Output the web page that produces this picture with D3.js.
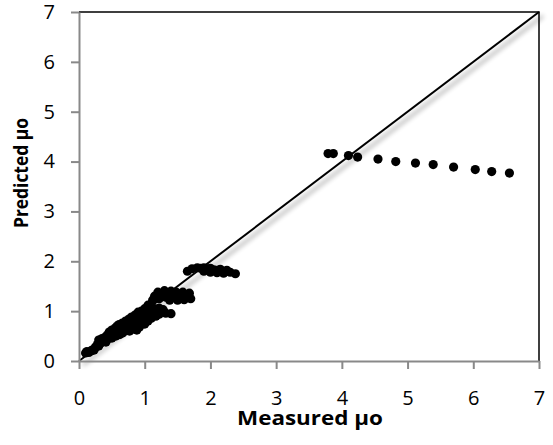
<!DOCTYPE html>
<html>
<head>
<meta charset="utf-8">
<script src="https://cdn.jsdelivr.net/npm/d3@7"></script>
<style>
body { margin: 0; background: #fff; }
svg { display: block; font-family: "Open Sans", sans-serif; }
</style>
</head>
<body>
<div id="chart"></div>
<script>
// measured vs predicted
var bandPoints = [
    [0.10, 0.16], [0.12, 0.19], [0.15, 0.17], [0.18, 0.20], [0.20, 0.22], [0.23, 0.22],
    [0.25, 0.28], [0.28, 0.33], [0.30, 0.30], [0.30, 0.42], [0.33, 0.36], [0.35, 0.45],
    [0.38, 0.40], [0.40, 0.48], [0.41, 0.38], [0.43, 0.52], [0.45, 0.45], [0.46, 0.58],
    [0.48, 0.50], [0.50, 0.62], [0.52, 0.52], [0.53, 0.60], [0.55, 0.66], [0.57, 0.55],
    [0.58, 0.70], [0.60, 0.62], [0.61, 0.73], [0.62, 0.53], [0.64, 0.67], [0.66, 0.76],
    [0.67, 0.58], [0.70, 0.70], [0.71, 0.80], [0.73, 0.62], [0.75, 0.74], [0.76, 0.84],
    [0.78, 0.65], [0.80, 0.78], [0.80, 0.88], [0.83, 0.70], [0.84, 0.64], [0.85, 0.92],
    [0.86, 0.82], [0.88, 0.74], [0.90, 0.98], [0.90, 0.86], [0.93, 0.78], [0.95, 1.00],
    [0.96, 0.90], [0.98, 0.82], [1.00, 1.05], [1.00, 0.95], [1.03, 0.86], [1.05, 1.12],
    [1.05, 1.00], [1.08, 0.90], [1.10, 1.02], [1.13, 0.93], [1.15, 1.05], [1.20, 0.98],
    [1.22, 1.06], [1.28, 1.03], [1.32, 0.96],
    [0.50, 0.46], [0.56, 0.50], [0.66, 0.56], [0.70, 0.60], [0.77, 0.60], [0.88, 0.62],
    [0.92, 0.68], [1.00, 0.74], [1.05, 0.80], [1.10, 0.86], [1.17, 0.90], [1.22, 0.94],
    [1.40, 0.95]
];
var midPoints = [
    [1.12, 1.22], [1.15, 1.30], [1.20, 1.38], [1.22, 1.25], [1.28, 1.35], [1.30, 1.41],
    [1.32, 1.28], [1.38, 1.22], [1.40, 1.40], [1.42, 1.30], [1.48, 1.38], [1.50, 1.22],
    [1.52, 1.30], [1.58, 1.38], [1.60, 1.23], [1.62, 1.30], [1.68, 1.36], [1.70, 1.25]
];
var upperPoints = [
    [1.65, 1.80], [1.72, 1.85], [1.80, 1.87], [1.85, 1.86], [1.90, 1.87], [1.95, 1.85],
    [2.00, 1.86], [2.05, 1.83], [2.10, 1.82], [2.15, 1.84], [2.20, 1.80], [2.25, 1.82],
    [2.30, 1.78], [2.38, 1.75], [1.90, 1.80], [2.00, 1.78], [2.10, 1.77], [2.20, 1.76]
];
var highPoints = [
    [3.79, 4.16], [3.87, 4.16], [4.10, 4.12], [4.24, 4.09], [4.55, 4.05], [4.82, 4.00],
    [5.12, 3.97], [5.39, 3.94], [5.70, 3.89], [6.03, 3.84], [6.28, 3.80], [6.55, 3.77]
];
var xTicks = [0, 1, 2, 3, 4, 5, 6, 7];
var yTicks = [0, 1, 2, 3, 4, 5, 6, 7];
var xTitle = "Measured \u03bco";
var yTitle = "Predicted \u03bco";

var allPoints = bandPoints.concat(midPoints, upperPoints, highPoints);

var width = 553, height = 445;
var plotLeft = 79, plotRight = 539, plotTop = 12, plotBottom = 361;

var svg = d3.select("#chart").append("svg").attr("width", width).attr("height", height);

var x = d3.scaleLinear().domain([0, 7]).range([plotLeft, plotRight]);
var y = d3.scaleLinear().domain([0, 7]).range([plotBottom, plotTop]);

var defs = svg.append("defs");
var shadow = defs.append("filter").attr("id", "shadow")
    .attr("x", "-10%").attr("y", "-10%").attr("width", "120%").attr("height", "120%");
shadow.append("feGaussianBlur").attr("in", "SourceAlpha").attr("stdDeviation", 2.5);
shadow.append("feOffset").attr("dx", 4).attr("dy", 4).attr("result", "off");
shadow.append("feComponentTransfer").append("feFuncA").attr("type", "linear").attr("slope", 0.45);
var merge = shadow.append("feMerge");
merge.append("feMergeNode");
merge.append("feMergeNode").attr("in", "SourceGraphic");

// top and right border
svg.append("path")
    .attr("d", "M" + plotLeft + "," + plotTop + "H" + plotRight + "V" + plotBottom)
    .attr("fill", "none").attr("stroke", "#000").attr("stroke-width", 1.5);

// 1:1 line
svg.append("line")
    .attr("x1", x(0)).attr("y1", y(0)).attr("x2", x(7)).attr("y2", y(7))
    .attr("stroke", "#000").attr("stroke-width", 2)
    .attr("filter", "url(#shadow)");

svg.append("g").selectAll("circle")
    .data(allPoints)
    .join("circle")
    .attr("cx", function (d) { return x(d[0]); })
    .attr("cy", function (d) { return y(d[1]); })
    .attr("r", 4.6)
    .attr("fill", "#000");

var xAxis = svg.append("g")
    .attr("transform", "translate(0," + plotBottom + ")")
    .call(d3.axisBottom(x).tickValues(xTicks).tickFormat(d3.format("d"))
        .tickSize(8).tickPadding(22).tickSizeOuter(0));
var yAxis = svg.append("g")
    .attr("transform", "translate(" + plotLeft + ",0)")
    .call(d3.axisLeft(y).tickValues(yTicks).tickFormat(d3.format("d"))
        .tickSize(8).tickPadding(16).tickSizeOuter(0));

[xAxis, yAxis].forEach(function (g) {
    g.select(".domain").attr("stroke", "#898989").attr("stroke-width", 2);
    g.selectAll(".tick line").attr("stroke", "#898989").attr("stroke-width", 2);
    g.selectAll(".tick text")
        .attr("fill", "#000")
        .style("font-size", "20px")
        .style("font-family", "'Open Sans', sans-serif");
});

svg.append("text")
    .attr("x", (plotLeft + plotRight) / 2 + 1).attr("y", 425)
    .attr("text-anchor", "middle")
    .attr("textLength", 146).attr("lengthAdjust", "spacingAndGlyphs")
    .style("font-size", "20px").style("font-weight", "bold")
    .text(xTitle);

svg.append("text")
    .attr("transform", "translate(28,173) rotate(-90)")
    .attr("text-anchor", "middle")
    .attr("textLength", 110).attr("lengthAdjust", "spacingAndGlyphs")
    .style("font-size", "20px").style("font-weight", "bold")
    .text(yTitle);
</script>
</body>
</html>
